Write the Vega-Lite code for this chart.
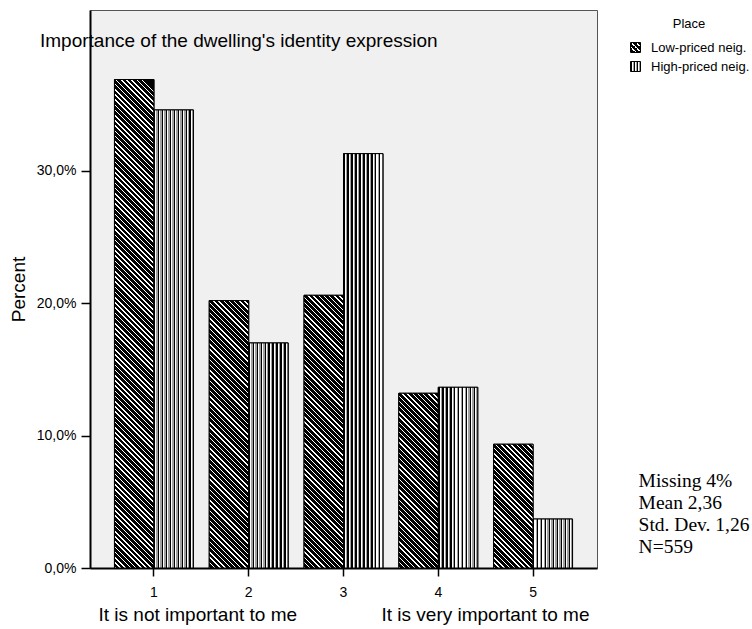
{
  "$schema": "https://vega.github.io/schema/vega-lite/v6.json",
  "autosize": {"type": "none"},
  "padding": {"left": 90, "top": 10, "right": 155, "bottom": 61},
  "width": 507,
  "height": 558,
  "background": "white",
  "title": {"text": "Importance of the dwelling's identity expression", "anchor": "start", "frame": "group", "orient": "top", "offset": 0, "dx": -50, "dy": 56, "baseline": "alphabetic", "font": "Liberation Sans", "fontSize": 19, "fontWeight": "normal", "color": "black"},
  "params": [
    {"name": "legLow", "value": {"gradient": "linear", "x1": 0, "y1": 1, "x2": 1, "y2": 0, "stops": [
      {"offset":0,"color":"#fff"},{"offset":0.075,"color":"#fff"},{"offset":0.075,"color":"#000"},{"offset":0.25,"color":"#000"},
      {"offset":0.25,"color":"#fff"},{"offset":0.325,"color":"#fff"},{"offset":0.325,"color":"#000"},{"offset":0.5,"color":"#000"},
      {"offset":0.5,"color":"#fff"},{"offset":0.575,"color":"#fff"},{"offset":0.575,"color":"#000"},{"offset":0.75,"color":"#000"},
      {"offset":0.75,"color":"#fff"},{"offset":0.825,"color":"#fff"},{"offset":0.825,"color":"#000"},{"offset":1,"color":"#000"}]}},
    {"name": "legHigh", "value": {"gradient": "linear", "x1": 0, "y1": 0, "x2": 1, "y2": 0, "stops": [
      {"offset":0,"color":"#000"},{"offset":0.12,"color":"#000"},{"offset":0.12,"color":"#fff"},{"offset":0.22,"color":"#fff"},{"offset":0.22,"color":"#a0a0a0"},{"offset":0.333,"color":"#a0a0a0"},
      {"offset":0.333,"color":"#000"},{"offset":0.453,"color":"#000"},{"offset":0.453,"color":"#fff"},{"offset":0.553,"color":"#fff"},{"offset":0.553,"color":"#a0a0a0"},{"offset":0.667,"color":"#a0a0a0"},
      {"offset":0.667,"color":"#000"},{"offset":0.787,"color":"#000"},{"offset":0.787,"color":"#fff"},{"offset":0.887,"color":"#fff"},{"offset":0.887,"color":"#a0a0a0"},{"offset":1,"color":"#a0a0a0"}]}},
    {"name": "vertGrad", "value": {"gradient": "linear", "x1": 0, "y1": 0, "x2": 1, "y2": 0, "stops": [
      {"offset":0,"color":"#000"},{"offset":0.035,"color":"#000"},{"offset":0.035,"color":"#fff"},{"offset":0.065,"color":"#fff"},{"offset":0.065,"color":"#a0a0a0"},{"offset":0.1,"color":"#a0a0a0"},
      {"offset":0.1,"color":"#000"},{"offset":0.135,"color":"#000"},{"offset":0.135,"color":"#fff"},{"offset":0.165,"color":"#fff"},{"offset":0.165,"color":"#a0a0a0"},{"offset":0.2,"color":"#a0a0a0"},
      {"offset":0.2,"color":"#000"},{"offset":0.235,"color":"#000"},{"offset":0.235,"color":"#fff"},{"offset":0.265,"color":"#fff"},{"offset":0.265,"color":"#a0a0a0"},{"offset":0.3,"color":"#a0a0a0"},
      {"offset":0.3,"color":"#000"},{"offset":0.335,"color":"#000"},{"offset":0.335,"color":"#fff"},{"offset":0.365,"color":"#fff"},{"offset":0.365,"color":"#a0a0a0"},{"offset":0.4,"color":"#a0a0a0"},
      {"offset":0.4,"color":"#000"},{"offset":0.435,"color":"#000"},{"offset":0.435,"color":"#fff"},{"offset":0.465,"color":"#fff"},{"offset":0.465,"color":"#a0a0a0"},{"offset":0.5,"color":"#a0a0a0"},
      {"offset":0.5,"color":"#000"},{"offset":0.535,"color":"#000"},{"offset":0.535,"color":"#fff"},{"offset":0.565,"color":"#fff"},{"offset":0.565,"color":"#a0a0a0"},{"offset":0.6,"color":"#a0a0a0"},
      {"offset":0.6,"color":"#000"},{"offset":0.635,"color":"#000"},{"offset":0.635,"color":"#fff"},{"offset":0.665,"color":"#fff"},{"offset":0.665,"color":"#a0a0a0"},{"offset":0.7,"color":"#a0a0a0"},
      {"offset":0.7,"color":"#000"},{"offset":0.735,"color":"#000"},{"offset":0.735,"color":"#fff"},{"offset":0.765,"color":"#fff"},{"offset":0.765,"color":"#a0a0a0"},{"offset":0.8,"color":"#a0a0a0"},
      {"offset":0.8,"color":"#000"},{"offset":0.835,"color":"#000"},{"offset":0.835,"color":"#fff"},{"offset":0.865,"color":"#fff"},{"offset":0.865,"color":"#a0a0a0"},{"offset":0.9,"color":"#a0a0a0"},
      {"offset":0.9,"color":"#000"},{"offset":0.935,"color":"#000"},{"offset":0.935,"color":"#fff"},{"offset":0.965,"color":"#fff"},{"offset":0.965,"color":"#a0a0a0"},{"offset":1,"color":"#a0a0a0"}
    ]}},
    {"name": "diagStops", "value": [
      {"offset":0,"color":"#fff"},{"offset":0.003,"color":"#fff"},{"offset":0.003,"color":"#000"},{"offset":0.01,"color":"#000"},
      {"offset":0.01,"color":"#fff"},{"offset":0.013,"color":"#fff"},{"offset":0.013,"color":"#000"},{"offset":0.02,"color":"#000"},
      {"offset":0.02,"color":"#fff"},{"offset":0.023,"color":"#fff"},{"offset":0.023,"color":"#000"},{"offset":0.03,"color":"#000"},
      {"offset":0.03,"color":"#fff"},{"offset":0.033,"color":"#fff"},{"offset":0.033,"color":"#000"},{"offset":0.04,"color":"#000"},
      {"offset":0.04,"color":"#fff"},{"offset":0.043,"color":"#fff"},{"offset":0.043,"color":"#000"},{"offset":0.05,"color":"#000"},
      {"offset":0.05,"color":"#fff"},{"offset":0.053,"color":"#fff"},{"offset":0.053,"color":"#000"},{"offset":0.06,"color":"#000"},
      {"offset":0.06,"color":"#fff"},{"offset":0.063,"color":"#fff"},{"offset":0.063,"color":"#000"},{"offset":0.07,"color":"#000"},
      {"offset":0.07,"color":"#fff"},{"offset":0.073,"color":"#fff"},{"offset":0.073,"color":"#000"},{"offset":0.08,"color":"#000"},
      {"offset":0.08,"color":"#fff"},{"offset":0.083,"color":"#fff"},{"offset":0.083,"color":"#000"},{"offset":0.09,"color":"#000"},
      {"offset":0.09,"color":"#fff"},{"offset":0.093,"color":"#fff"},{"offset":0.093,"color":"#000"},{"offset":0.1,"color":"#000"},
      {"offset":0.1,"color":"#fff"},{"offset":0.103,"color":"#fff"},{"offset":0.103,"color":"#000"},{"offset":0.11,"color":"#000"},
      {"offset":0.11,"color":"#fff"},{"offset":0.113,"color":"#fff"},{"offset":0.113,"color":"#000"},{"offset":0.12,"color":"#000"},
      {"offset":0.12,"color":"#fff"},{"offset":0.123,"color":"#fff"},{"offset":0.123,"color":"#000"},{"offset":0.13,"color":"#000"},
      {"offset":0.13,"color":"#fff"},{"offset":0.133,"color":"#fff"},{"offset":0.133,"color":"#000"},{"offset":0.14,"color":"#000"},
      {"offset":0.14,"color":"#fff"},{"offset":0.143,"color":"#fff"},{"offset":0.143,"color":"#000"},{"offset":0.15,"color":"#000"},
      {"offset":0.15,"color":"#fff"},{"offset":0.153,"color":"#fff"},{"offset":0.153,"color":"#000"},{"offset":0.16,"color":"#000"},
      {"offset":0.16,"color":"#fff"},{"offset":0.163,"color":"#fff"},{"offset":0.163,"color":"#000"},{"offset":0.17,"color":"#000"},
      {"offset":0.17,"color":"#fff"},{"offset":0.173,"color":"#fff"},{"offset":0.173,"color":"#000"},{"offset":0.18,"color":"#000"},
      {"offset":0.18,"color":"#fff"},{"offset":0.183,"color":"#fff"},{"offset":0.183,"color":"#000"},{"offset":0.19,"color":"#000"},
      {"offset":0.19,"color":"#fff"},{"offset":0.193,"color":"#fff"},{"offset":0.193,"color":"#000"},{"offset":0.2,"color":"#000"},
      {"offset":0.2,"color":"#fff"},{"offset":0.203,"color":"#fff"},{"offset":0.203,"color":"#000"},{"offset":0.21,"color":"#000"},
      {"offset":0.21,"color":"#fff"},{"offset":0.213,"color":"#fff"},{"offset":0.213,"color":"#000"},{"offset":0.22,"color":"#000"},
      {"offset":0.22,"color":"#fff"},{"offset":0.223,"color":"#fff"},{"offset":0.223,"color":"#000"},{"offset":0.23,"color":"#000"},
      {"offset":0.23,"color":"#fff"},{"offset":0.233,"color":"#fff"},{"offset":0.233,"color":"#000"},{"offset":0.24,"color":"#000"},
      {"offset":0.24,"color":"#fff"},{"offset":0.243,"color":"#fff"},{"offset":0.243,"color":"#000"},{"offset":0.25,"color":"#000"},
      {"offset":0.25,"color":"#fff"},{"offset":0.253,"color":"#fff"},{"offset":0.253,"color":"#000"},{"offset":0.26,"color":"#000"},
      {"offset":0.26,"color":"#fff"},{"offset":0.263,"color":"#fff"},{"offset":0.263,"color":"#000"},{"offset":0.27,"color":"#000"},
      {"offset":0.27,"color":"#fff"},{"offset":0.273,"color":"#fff"},{"offset":0.273,"color":"#000"},{"offset":0.28,"color":"#000"},
      {"offset":0.28,"color":"#fff"},{"offset":0.283,"color":"#fff"},{"offset":0.283,"color":"#000"},{"offset":0.29,"color":"#000"},
      {"offset":0.29,"color":"#fff"},{"offset":0.293,"color":"#fff"},{"offset":0.293,"color":"#000"},{"offset":0.3,"color":"#000"},
      {"offset":0.3,"color":"#fff"},{"offset":0.303,"color":"#fff"},{"offset":0.303,"color":"#000"},{"offset":0.31,"color":"#000"},
      {"offset":0.31,"color":"#fff"},{"offset":0.313,"color":"#fff"},{"offset":0.313,"color":"#000"},{"offset":0.32,"color":"#000"},
      {"offset":0.32,"color":"#fff"},{"offset":0.323,"color":"#fff"},{"offset":0.323,"color":"#000"},{"offset":0.33,"color":"#000"},
      {"offset":0.33,"color":"#fff"},{"offset":0.333,"color":"#fff"},{"offset":0.333,"color":"#000"},{"offset":0.34,"color":"#000"},
      {"offset":0.34,"color":"#fff"},{"offset":0.343,"color":"#fff"},{"offset":0.343,"color":"#000"},{"offset":0.35,"color":"#000"},
      {"offset":0.35,"color":"#fff"},{"offset":0.353,"color":"#fff"},{"offset":0.353,"color":"#000"},{"offset":0.36,"color":"#000"},
      {"offset":0.36,"color":"#fff"},{"offset":0.363,"color":"#fff"},{"offset":0.363,"color":"#000"},{"offset":0.37,"color":"#000"},
      {"offset":0.37,"color":"#fff"},{"offset":0.373,"color":"#fff"},{"offset":0.373,"color":"#000"},{"offset":0.38,"color":"#000"},
      {"offset":0.38,"color":"#fff"},{"offset":0.383,"color":"#fff"},{"offset":0.383,"color":"#000"},{"offset":0.39,"color":"#000"},
      {"offset":0.39,"color":"#fff"},{"offset":0.393,"color":"#fff"},{"offset":0.393,"color":"#000"},{"offset":0.4,"color":"#000"},
      {"offset":0.4,"color":"#fff"},{"offset":0.403,"color":"#fff"},{"offset":0.403,"color":"#000"},{"offset":0.41,"color":"#000"},
      {"offset":0.41,"color":"#fff"},{"offset":0.413,"color":"#fff"},{"offset":0.413,"color":"#000"},{"offset":0.42,"color":"#000"},
      {"offset":0.42,"color":"#fff"},{"offset":0.423,"color":"#fff"},{"offset":0.423,"color":"#000"},{"offset":0.43,"color":"#000"},
      {"offset":0.43,"color":"#fff"},{"offset":0.433,"color":"#fff"},{"offset":0.433,"color":"#000"},{"offset":0.44,"color":"#000"},
      {"offset":0.44,"color":"#fff"},{"offset":0.443,"color":"#fff"},{"offset":0.443,"color":"#000"},{"offset":0.45,"color":"#000"},
      {"offset":0.45,"color":"#fff"},{"offset":0.453,"color":"#fff"},{"offset":0.453,"color":"#000"},{"offset":0.46,"color":"#000"},
      {"offset":0.46,"color":"#fff"},{"offset":0.463,"color":"#fff"},{"offset":0.463,"color":"#000"},{"offset":0.47,"color":"#000"},
      {"offset":0.47,"color":"#fff"},{"offset":0.473,"color":"#fff"},{"offset":0.473,"color":"#000"},{"offset":0.48,"color":"#000"},
      {"offset":0.48,"color":"#fff"},{"offset":0.483,"color":"#fff"},{"offset":0.483,"color":"#000"},{"offset":0.49,"color":"#000"},
      {"offset":0.49,"color":"#fff"},{"offset":0.493,"color":"#fff"},{"offset":0.493,"color":"#000"},{"offset":0.5,"color":"#000"},
      {"offset":0.5,"color":"#fff"},{"offset":0.503,"color":"#fff"},{"offset":0.503,"color":"#000"},{"offset":0.51,"color":"#000"},
      {"offset":0.51,"color":"#fff"},{"offset":0.513,"color":"#fff"},{"offset":0.513,"color":"#000"},{"offset":0.52,"color":"#000"},
      {"offset":0.52,"color":"#fff"},{"offset":0.523,"color":"#fff"},{"offset":0.523,"color":"#000"},{"offset":0.53,"color":"#000"},
      {"offset":0.53,"color":"#fff"},{"offset":0.533,"color":"#fff"},{"offset":0.533,"color":"#000"},{"offset":0.54,"color":"#000"},
      {"offset":0.54,"color":"#fff"},{"offset":0.543,"color":"#fff"},{"offset":0.543,"color":"#000"},{"offset":0.55,"color":"#000"},
      {"offset":0.55,"color":"#fff"},{"offset":0.553,"color":"#fff"},{"offset":0.553,"color":"#000"},{"offset":0.56,"color":"#000"},
      {"offset":0.56,"color":"#fff"},{"offset":0.563,"color":"#fff"},{"offset":0.563,"color":"#000"},{"offset":0.57,"color":"#000"},
      {"offset":0.57,"color":"#fff"},{"offset":0.573,"color":"#fff"},{"offset":0.573,"color":"#000"},{"offset":0.58,"color":"#000"},
      {"offset":0.58,"color":"#fff"},{"offset":0.583,"color":"#fff"},{"offset":0.583,"color":"#000"},{"offset":0.59,"color":"#000"},
      {"offset":0.59,"color":"#fff"},{"offset":0.593,"color":"#fff"},{"offset":0.593,"color":"#000"},{"offset":0.6,"color":"#000"},
      {"offset":0.6,"color":"#fff"},{"offset":0.603,"color":"#fff"},{"offset":0.603,"color":"#000"},{"offset":0.61,"color":"#000"},
      {"offset":0.61,"color":"#fff"},{"offset":0.613,"color":"#fff"},{"offset":0.613,"color":"#000"},{"offset":0.62,"color":"#000"},
      {"offset":0.62,"color":"#fff"},{"offset":0.623,"color":"#fff"},{"offset":0.623,"color":"#000"},{"offset":0.63,"color":"#000"},
      {"offset":0.63,"color":"#fff"},{"offset":0.633,"color":"#fff"},{"offset":0.633,"color":"#000"},{"offset":0.64,"color":"#000"},
      {"offset":0.64,"color":"#fff"},{"offset":0.643,"color":"#fff"},{"offset":0.643,"color":"#000"},{"offset":0.65,"color":"#000"},
      {"offset":0.65,"color":"#fff"},{"offset":0.653,"color":"#fff"},{"offset":0.653,"color":"#000"},{"offset":0.66,"color":"#000"},
      {"offset":0.66,"color":"#fff"},{"offset":0.663,"color":"#fff"},{"offset":0.663,"color":"#000"},{"offset":0.67,"color":"#000"},
      {"offset":0.67,"color":"#fff"},{"offset":0.673,"color":"#fff"},{"offset":0.673,"color":"#000"},{"offset":0.68,"color":"#000"},
      {"offset":0.68,"color":"#fff"},{"offset":0.683,"color":"#fff"},{"offset":0.683,"color":"#000"},{"offset":0.69,"color":"#000"},
      {"offset":0.69,"color":"#fff"},{"offset":0.693,"color":"#fff"},{"offset":0.693,"color":"#000"},{"offset":0.7,"color":"#000"},
      {"offset":0.7,"color":"#fff"},{"offset":0.703,"color":"#fff"},{"offset":0.703,"color":"#000"},{"offset":0.71,"color":"#000"},
      {"offset":0.71,"color":"#fff"},{"offset":0.713,"color":"#fff"},{"offset":0.713,"color":"#000"},{"offset":0.72,"color":"#000"},
      {"offset":0.72,"color":"#fff"},{"offset":0.723,"color":"#fff"},{"offset":0.723,"color":"#000"},{"offset":0.73,"color":"#000"},
      {"offset":0.73,"color":"#fff"},{"offset":0.733,"color":"#fff"},{"offset":0.733,"color":"#000"},{"offset":0.74,"color":"#000"},
      {"offset":0.74,"color":"#fff"},{"offset":0.743,"color":"#fff"},{"offset":0.743,"color":"#000"},{"offset":0.75,"color":"#000"},
      {"offset":0.75,"color":"#fff"},{"offset":0.753,"color":"#fff"},{"offset":0.753,"color":"#000"},{"offset":0.76,"color":"#000"},
      {"offset":0.76,"color":"#fff"},{"offset":0.763,"color":"#fff"},{"offset":0.763,"color":"#000"},{"offset":0.77,"color":"#000"},
      {"offset":0.77,"color":"#fff"},{"offset":0.773,"color":"#fff"},{"offset":0.773,"color":"#000"},{"offset":0.78,"color":"#000"},
      {"offset":0.78,"color":"#fff"},{"offset":0.783,"color":"#fff"},{"offset":0.783,"color":"#000"},{"offset":0.79,"color":"#000"},
      {"offset":0.79,"color":"#fff"},{"offset":0.793,"color":"#fff"},{"offset":0.793,"color":"#000"},{"offset":0.8,"color":"#000"},
      {"offset":0.8,"color":"#fff"},{"offset":0.803,"color":"#fff"},{"offset":0.803,"color":"#000"},{"offset":0.81,"color":"#000"},
      {"offset":0.81,"color":"#fff"},{"offset":0.813,"color":"#fff"},{"offset":0.813,"color":"#000"},{"offset":0.82,"color":"#000"},
      {"offset":0.82,"color":"#fff"},{"offset":0.823,"color":"#fff"},{"offset":0.823,"color":"#000"},{"offset":0.83,"color":"#000"},
      {"offset":0.83,"color":"#fff"},{"offset":0.833,"color":"#fff"},{"offset":0.833,"color":"#000"},{"offset":0.84,"color":"#000"},
      {"offset":0.84,"color":"#fff"},{"offset":0.843,"color":"#fff"},{"offset":0.843,"color":"#000"},{"offset":0.85,"color":"#000"},
      {"offset":0.85,"color":"#fff"},{"offset":0.853,"color":"#fff"},{"offset":0.853,"color":"#000"},{"offset":0.86,"color":"#000"},
      {"offset":0.86,"color":"#fff"},{"offset":0.863,"color":"#fff"},{"offset":0.863,"color":"#000"},{"offset":0.87,"color":"#000"},
      {"offset":0.87,"color":"#fff"},{"offset":0.873,"color":"#fff"},{"offset":0.873,"color":"#000"},{"offset":0.88,"color":"#000"},
      {"offset":0.88,"color":"#fff"},{"offset":0.883,"color":"#fff"},{"offset":0.883,"color":"#000"},{"offset":0.89,"color":"#000"},
      {"offset":0.89,"color":"#fff"},{"offset":0.893,"color":"#fff"},{"offset":0.893,"color":"#000"},{"offset":0.9,"color":"#000"},
      {"offset":0.9,"color":"#fff"},{"offset":0.903,"color":"#fff"},{"offset":0.903,"color":"#000"},{"offset":0.91,"color":"#000"},
      {"offset":0.91,"color":"#fff"},{"offset":0.913,"color":"#fff"},{"offset":0.913,"color":"#000"},{"offset":0.92,"color":"#000"},
      {"offset":0.92,"color":"#fff"},{"offset":0.923,"color":"#fff"},{"offset":0.923,"color":"#000"},{"offset":0.93,"color":"#000"},
      {"offset":0.93,"color":"#fff"},{"offset":0.933,"color":"#fff"},{"offset":0.933,"color":"#000"},{"offset":0.94,"color":"#000"},
      {"offset":0.94,"color":"#fff"},{"offset":0.943,"color":"#fff"},{"offset":0.943,"color":"#000"},{"offset":0.95,"color":"#000"},
      {"offset":0.95,"color":"#fff"},{"offset":0.953,"color":"#fff"},{"offset":0.953,"color":"#000"},{"offset":0.96,"color":"#000"},
      {"offset":0.96,"color":"#fff"},{"offset":0.963,"color":"#fff"},{"offset":0.963,"color":"#000"},{"offset":0.97,"color":"#000"},
      {"offset":0.97,"color":"#fff"},{"offset":0.973,"color":"#fff"},{"offset":0.973,"color":"#000"},{"offset":0.98,"color":"#000"},
      {"offset":0.98,"color":"#fff"},{"offset":0.983,"color":"#fff"},{"offset":0.983,"color":"#000"},{"offset":0.99,"color":"#000"},
      {"offset":0.99,"color":"#fff"},{"offset":0.993,"color":"#fff"},{"offset":0.993,"color":"#000"},{"offset":1,"color":"#000"}
    ]}
  ],
  "config": {
    "view": {"fill": "#f0f0f0", "stroke": "#555555", "strokeWidth": 1},
    "font": "Liberation Sans",
    "axis": {"labelFont": "Liberation Sans", "titleFont": "Liberation Sans", "labelColor": "black", "titleColor": "black", "titleFontWeight": "normal", "domainColor": "black", "tickColor": "black", "grid": false},
    "legend": {"labelFont": "Liberation Sans", "titleFont": "Liberation Sans", "labelColor": "black", "titleColor": "black", "titleFontWeight": "normal"}
  },
  "data": {"values": [
    {"Score": 1, "Place": "Low-priced neig.", "Percent": 0.369},
    {"Score": 1, "Place": "High-priced neig.", "Percent": 0.346},
    {"Score": 2, "Place": "Low-priced neig.", "Percent": 0.202},
    {"Score": 2, "Place": "High-priced neig.", "Percent": 0.170},
    {"Score": 3, "Place": "Low-priced neig.", "Percent": 0.206},
    {"Score": 3, "Place": "High-priced neig.", "Percent": 0.313},
    {"Score": 4, "Place": "Low-priced neig.", "Percent": 0.132},
    {"Score": 4, "Place": "High-priced neig.", "Percent": 0.1365},
    {"Score": 5, "Place": "Low-priced neig.", "Percent": 0.0935},
    {"Score": 5, "Place": "High-priced neig.", "Percent": 0.037}
  ]},
  "encoding": {
    "x": {"field": "Score", "type": "ordinal",
      "scale": {"paddingInner": 0.167, "paddingOuter": 0.258},
      "axis": {"labelAngle": 0, "labelFontSize": 14, "tickSize": 8, "tickWidth": 1.5, "domainWidth": 2, "labelPadding": 9,
        "title": "It is not important to me\u00a0\u00a0\u00a0\u00a0\u00a0\u00a0\u00a0\u00a0\u00a0\u00a0\u00a0\u00a0\u00a0\u00a0\u00a0\u00a0It is very important to me",
        "titleFontSize": 19, "titlePadding": 6}},
    "y": {"field": "Percent", "type": "quantitative",
      "scale": {"domain": [0, 0.4215], "nice": false, "zero": true},
      "axis": {"values": [0, 0.1, 0.2, 0.3], "labelExpr": "replace(format(datum.value, '.1%'), '.', ',')", "labelFontSize": 14, "tickSize": 9, "tickWidth": 1.5, "domainWidth": 2, "labelPadding": 5,
        "title": "Percent", "titleFontSize": 19, "titlePadding": 8}}
  },
  "layer": [
    {
      "mark": {"type": "bar", "stroke": "black", "strokeWidth": 1},
      "encoding": {
        "xOffset": {"field": "Place", "type": "nominal", "scale": {"domain": ["Low-priced neig.", "High-priced neig."], "paddingInner": 0, "paddingOuter": 0}},
        "color": {"field": "Place", "type": "nominal",
          "scale": {"domain": ["Low-priced neig.", "High-priced neig."], "range": [{"expr": "legLow"}, {"expr": "legHigh"}]},
          "legend": {"title": "Place", "orient": "none", "legendX": 539, "legendY": 8, "titleFontSize": 13, "labelFontSize": 13, "titleAnchor": "middle", "titleAlign": "center", "titlePadding": 10, "rowPadding": 4, "symbolType": "square", "symbolSize": 100, "symbolStrokeColor": "black", "symbolStrokeWidth": 1, "labelOffset": 9, "padding": 0}}
      }
    },
    {
      "mark": {"type": "bar", "stroke": "black", "strokeWidth": 1,
        "fill": {"expr": "datum.Place === 'Low-priced neig.' ? {'gradient': 'linear', 'x1': 0, 'y1': 1, 'x2': 520 * bandwidth('xOffset') / (bandwidth('xOffset') * bandwidth('xOffset') + (scale('y', 0) - scale('y', datum.Percent)) * (scale('y', 0) - scale('y', datum.Percent))), 'y2': 1 - 520 * (scale('y', 0) - scale('y', datum.Percent)) / (bandwidth('xOffset') * bandwidth('xOffset') + (scale('y', 0) - scale('y', datum.Percent)) * (scale('y', 0) - scale('y', datum.Percent))), 'stops': diagStops} : vertGrad"}},
      "encoding": {
        "xOffset": {"field": "Place", "type": "nominal"}
      }
    },
    {
      "transform": [{"filter": "datum.Score === 5 && datum.Place === 'Low-priced neig.'"}],
      "mark": {"type": "text", "font": "Liberation Serif", "fontSize": 19.5, "align": "left", "baseline": "alphabetic", "lineHeight": 22, "dx": 105.5, "fill": "black", "clip": false},
      "encoding": {
        "y": {"datum": 0.0612, "type": "quantitative"},
        "text": {"value": ["Missing 4%", "Mean 2,36", "Std. Dev. 1,26", "N=559"]}
      }
    }
  ]
}
